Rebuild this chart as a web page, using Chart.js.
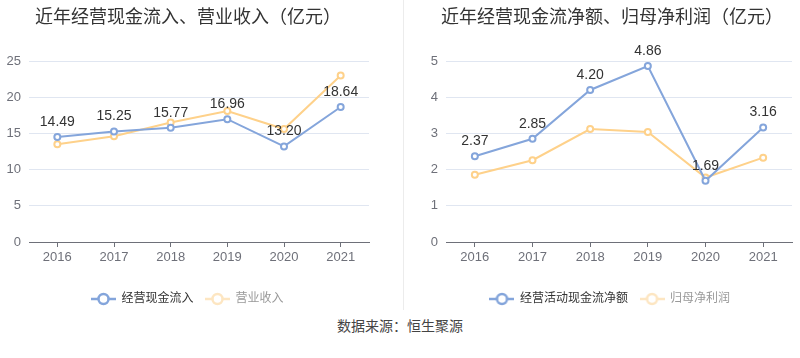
<!DOCTYPE html>
<html>
<head>
<meta charset="utf-8">
<script src="https://cdn.jsdelivr.net/npm/chart.js@4.4.0/dist/chart.umd.min.js"></script>
<style>
  body { margin: 0; background: #fff; width: 800px; height: 358px; position: relative; overflow: hidden;
         font-family: "Liberation Sans", "Noto Sans CJK SC", sans-serif; }
  .title { position: absolute; top: 2px; font-size: 18px; color: #333; white-space: nowrap; }
  .box { position: absolute; top: 0; width: 400px; height: 315px; }
  .divider { position: absolute; left: 403px; top: 0; width: 1px; height: 310px; background: #ececec; }
  .source { position: absolute; top: 315px; left: 0; width: 800px; text-align: center; font-size: 14px; color: #444; }
</style>
</head>
<body>
<div class="box" style="left:0"><canvas id="leftChart"></canvas></div>
<div class="box" style="left:400px"><canvas id="rightChart"></canvas></div>
<div class="divider"></div>
<div class="title" style="left:35px">近年经营现金流入、营业收入（亿元）</div>
<div class="title" style="left:441px">近年经营现金流净额、归母净利润（亿元）</div>
<div class="source">数据来源：恒生聚源</div>
<script>
// 数据
const years = ['2016', '2017', '2018', '2019', '2020', '2021'];
const cashInflow = [14.49, 15.25, 15.77, 16.96, 13.20, 18.64];
const revenue = [13.5, 14.6, 16.5, 18.1, 15.6, 23.0];
const netCashFlow = [2.37, 2.85, 4.20, 4.86, 1.69, 3.16];
const netProfit = [1.86, 2.26, 3.12, 3.04, 1.78, 2.33];
const leftTicks = [0, 5, 10, 15, 20, 25];
const rightTicks = [0, 1, 2, 3, 4, 5];

const BLUE = '#84a5db';
const ORANGE = '#fed18a';
const FONT = '"Liberation Sans", "Noto Sans CJK SC", sans-serif';

// 图例图标：线 + 空心圆
function legendIcon(color) {
    const c = document.createElement('canvas');
    c.width = 25; c.height = 14;
    const g = c.getContext('2d');
    g.strokeStyle = color;
    g.lineWidth = 2.5;
    g.beginPath(); g.moveTo(0, 7); g.lineTo(25, 7); g.stroke();
    g.fillStyle = '#fff';
    g.beginPath(); g.arc(12.5, 7, 5, 0, Math.PI * 2); g.fill(); g.stroke();
    return c;
}

// 数值标签
const valueLabels = {
    id: 'valueLabels',
    afterDatasetsDraw(chart) {
        const ctx = chart.ctx;
        const meta = chart.getDatasetMeta(0);
        const data = chart.data.datasets[0].data;
        ctx.save();
        ctx.font = '14px ' + FONT;
        ctx.fillStyle = '#333';
        ctx.textAlign = 'center';
        ctx.textBaseline = 'middle';
        meta.data.forEach((pt, i) => {
            ctx.fillText(data[i].toFixed(2), pt.x, pt.y - 15);
        });
        ctx.restore();
    }
};

const createChart = (canvasId, labelA, dataA, labelB, dataB, ticks, yWidth, padLeft, padRight) => {
    const ctx = document.getElementById(canvasId).getContext('2d');
    const iconA = legendIcon(BLUE);
    const iconB = legendIcon('#fde6c2');
    return new Chart(ctx, {
        type: 'line',
        data: {
            labels: years,
            datasets: [
                { label: labelA, data: dataA, borderColor: BLUE, backgroundColor: '#fff',
                  borderWidth: 2, pointRadius: 3, pointBorderWidth: 2, pointHoverRadius: 3, tension: 0 },
                { label: labelB, data: dataB, borderColor: ORANGE, backgroundColor: '#fff',
                  borderWidth: 2, pointRadius: 3, pointBorderWidth: 2, pointHoverRadius: 3, tension: 0 }
            ]
        },
        options: {
            responsive: true,
            maintainAspectRatio: false,
            animation: false,
            events: [],
            layout: { padding: { top: 61, left: padLeft, right: padRight, bottom: 0 } },
            plugins: {
                tooltip: { enabled: false },
                legend: {
                    position: 'bottom',
                    labels: {
                        usePointStyle: true,
                        pointStyleWidth: 24,
                        padding: 12,
                        font: { size: 12, family: FONT },
                        generateLabels: () => [
                            { text: labelA, pointStyle: iconA, fontColor: '#333', strokeStyle: BLUE, datasetIndex: 0 },
                            { text: labelB, pointStyle: iconB, fontColor: '#999', strokeStyle: ORANGE, datasetIndex: 1 }
                        ]
                    }
                }
            },
            scales: {
                x: {
                    offset: true,
                    grid: { drawOnChartArea: false, drawTicks: true, tickLength: 5, offset: false, color: '#6e7079' },
                    border: { color: '#6e7079' },
                    ticks: { color: '#6e7079', font: { size: 13, family: FONT }, padding: 3 },
                    afterFit: (s) => { s.height = 39; }
                },
                y: {
                    min: ticks[0],
                    max: ticks[ticks.length - 1],
                    afterBuildTicks: (s) => { s.ticks = ticks.map(v => ({ value: v })); },
                    grid: { color: '#e0e6f1', drawTicks: false },
                    border: { display: false },
                    ticks: { color: '#6e7079', font: { size: 13, family: FONT }, padding: 8 },
                    afterFit: (s) => { s.width = yWidth; }
                }
            }
        },
        plugins: [valueLabels]
    });
};

createChart('leftChart', '经营现金流入', cashInflow, '营业收入', revenue, leftTicks, 23, 6, 31);
createChart('rightChart', '经营活动现金流净额', netCashFlow, '归母净利润', netProfit, rightTicks, 18, 28, 8);
</script>
</body>
</html>
